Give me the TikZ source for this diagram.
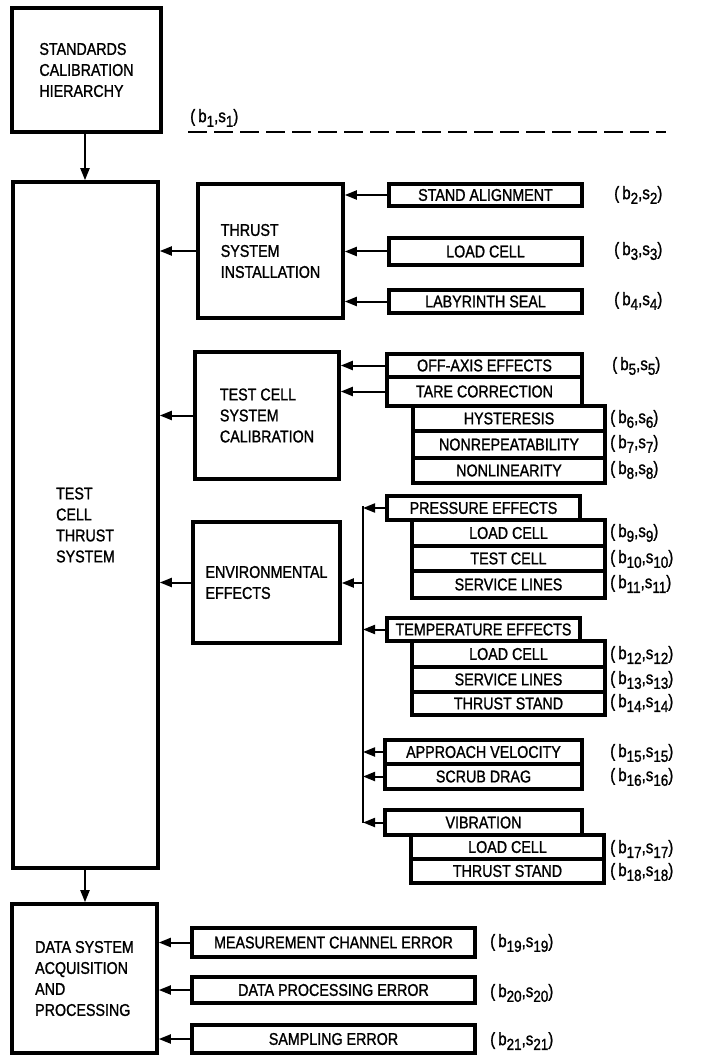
\documentclass[tikz,border=0pt]{standalone}
\usepackage{fontspec}
\setmainfont[FakeStretch=0.84,FakeBold=1.2]{Liberation Sans}
\usetikzlibrary{arrows.meta}
\newcommand{\sbn}[1]{\raisebox{-0.5ex}{\fontsize{16}{16}\selectfont #1}}
\newcommand{\bslab}[1]{(\,b\sbn{#1},s\sbn{#1})}
\newcommand{\errbx}[6]{\node[errbox,minimum width={(#4-#2)*1pt},minimum height={(#5-#3)*1pt}] (#1) at ({(#2+#4)/2},{(#3+#5)/2}) {#6};}
\newcommand{\bigbx}[6]{\node[bigbox,minimum width={(#4-#2)*1pt},minimum height={(#5-#3)*1pt}] (#1) at ({(#2+#4)/2},{(#3+#5)/2}) {#6};}
\begin{document}
\begin{tikzpicture}[x=1pt,y=-1pt,
  every node/.style={font=\fontsize{17}{21}\selectfont},
  bigbox/.style={draw,line width=3.6pt,align=left,inner sep=0pt},
  errbox/.style={draw,line width=3.6pt,inner sep=0pt},
  lab/.style={anchor=west,inner sep=0pt,font=\fontsize{18}{18}\selectfont},
  arr/.style={line width=2pt,-{Triangle[length=12pt,width=9pt]}},
  bus/.style={line width=1.8pt}]
\useasboundingbox (0,0) rectangle (709,1056);

% main column
\bigbx{std}{12}{8}{161}{132}{STANDARDS\\CALIBRATION\\HIERARCHY}
\bigbx{test}{13}{182}{158}{868}{TEST\\CELL\\THRUST\\SYSTEM}
\bigbx{data}{12}{904}{157}{1053}{DATA SYSTEM\\ACQUISITION\\AND\\PROCESSING}

% second column
\bigbx{inst}{198}{184}{343}{318}{THRUST\\SYSTEM\\INSTALLATION}
\bigbx{cal}{195}{352}{339}{479}{TEST CELL\\SYSTEM\\CALIBRATION}
\bigbx{env}{193}{522}{340}{643}{ENVIRONMENTAL\\EFFECTS}

% thrust system installation
\errbx{sa}{389}{184}{582}{206}{STAND ALIGNMENT}
\errbx{lc}{389}{238}{582}{265}{LOAD CELL}
\errbx{ls}{389}{290}{582}{313}{LABYRINTH SEAL}

% test cell calibration
\errbx{oa}{387}{354}{582}{377}{OFF-AXIS EFFECTS}
\errbx{tc}{387}{377}{582}{406}{TARE CORRECTION}
\errbx{hy}{413}{406}{605}{431}{HYSTERESIS}
\errbx{nr}{413}{431}{605}{458}{NONREPEATABILITY}
\errbx{nl}{413}{458}{605}{483}{NONLINEARITY}

% environmental
\errbx{pe}{387}{496}{580}{520}{PRESSURE EFFECTS}
\errbx{plc}{412}{520}{605}{546}{LOAD CELL}
\errbx{ptc}{412}{546}{605}{571}{TEST CELL}
\errbx{psl}{412}{571}{605}{598}{SERVICE LINES}
\errbx{te}{387}{618}{580}{641}{TEMPERATURE EFFECTS}
\errbx{tlc}{412}{641}{605}{667}{LOAD CELL}
\errbx{tsl}{412}{667}{605}{692}{SERVICE LINES}
\errbx{tts}{412}{692}{605}{715}{THRUST STAND}
\errbx{av}{385}{740}{582}{764}{APPROACH VELOCITY}
\errbx{sd}{385}{764}{582}{789}{SCRUB DRAG}
\errbx{vb}{385}{810}{582}{835}{VIBRATION}
\errbx{vlc}{411}{835}{604}{859}{LOAD CELL}
\errbx{vts}{411}{859}{604}{883}{THRUST STAND}

% data system
\errbx{mc}{192}{928}{475}{957}{MEASUREMENT CHANNEL ERROR}
\errbx{dp}{192}{977}{475}{1003}{DATA PROCESSING ERROR}
\errbx{se}{192}{1025}{475}{1053}{SAMPLING ERROR}

% labels
\node[lab] (l1) at (190,118) {\bslab{1}};
\node[lab] (l2) at (614,195) {\bslab{2}};
\node[lab] (l3) at (614,251) {\bslab{3}};
\node[lab] (l4) at (614,301) {\bslab{4}};
\node[lab] (l5) at (612,366) {\bslab{5}};
\node[lab] (l6) at (610,419) {\bslab{6}};
\node[lab] (l7) at (610,444) {\bslab{7}};
\node[lab] (l8) at (610,470) {\bslab{8}};
\node[lab] (l9) at (610,533) {\bslab{9}};
\node[lab] (l10) at (610,559) {\bslab{10}};
\node[lab] (l11) at (610,584) {\bslab{11}};
\node[lab] (l12) at (610,655) {\bslab{12}};
\node[lab] (l13) at (610,680) {\bslab{13}};
\node[lab] (l14) at (610,703) {\bslab{14}};
\node[lab] (l15) at (610,753) {\bslab{15}};
\node[lab] (l16) at (610,777) {\bslab{16}};
\node[lab] (l17) at (610,849) {\bslab{17}};
\node[lab] (l18) at (610,872) {\bslab{18}};
\node[lab] (l19) at (490,943) {\bslab{19}};
\node[lab] (l20) at (490,993) {\bslab{20}};
\node[lab] (l21) at (490,1041) {\bslab{21}};

\draw[line width=1.5pt,dash pattern=on 19pt off 7pt] (l1.south west) ++(-2,5) coordinate (d0) -- ++(478,0) coordinate (d1);

% vertical arrows
\draw[arr] (std.south -| 85,0) -- (test.north -| 85,0);
\draw[arr] (test.south -| 85,0) -- (data.north -| 85,0);

% into test cell box
\draw[arr] (inst.west) -- (inst.west -| test.east);
\draw[arr] (cal.west) -- (cal.west -| test.east);
\draw[arr] (env.west) -- (env.west -| test.east);

% installation
\foreach \b in {sa,lc,ls} \draw[arr] (\b.west) -- (\b.west -| inst.east);
\foreach \b in {oa,tc} \draw[arr] (\b.west) -- (\b.west -| cal.east);

% environmental bus
\coordinate (bt) at (363,506);
\coordinate (bb) at (363,823);
\draw[bus] (bt) -- (bb);
\draw[arr] (363,583) coordinate (bm) -- (bm -| env.east);
\draw[arr] (pe.west) -- (pe.west -| bt);
\draw[arr] (te.west) -- (te.west -| bt);
\draw[arr] (av.west) -- (av.west -| bt);
\draw[arr] (sd.west) -- (sd.west -| bt);
\draw[arr] (vb.west) -- (vb.west -| bt);

% data system
\foreach \b in {mc,dp,se} \draw[arr] (\b.west) -- (\b.west -| data.east);
\end{tikzpicture}
\end{document}
